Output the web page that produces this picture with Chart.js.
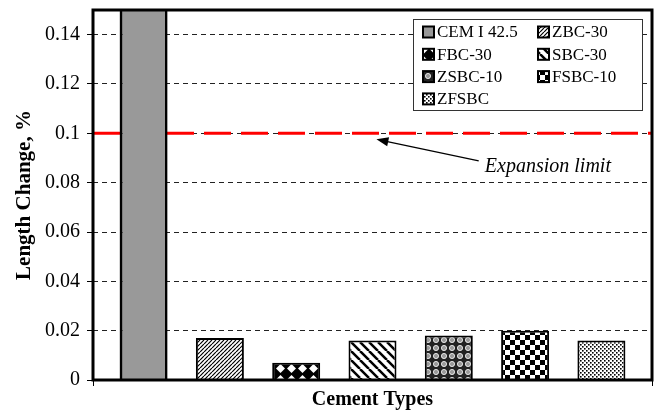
<!DOCTYPE html>
<html>
<head>
<meta charset="utf-8">
<script src="https://cdn.jsdelivr.net/npm/chart.js@4/dist/chart.umd.min.js"></script>
<style>
  html, body { margin: 0; padding: 0; background: #fff; }
  #wrap { width: 654px; height: 416px; }
</style>
</head>
<body>
<div id="wrap"><canvas id="chart"></canvas></div>
<script>
const cementTypes = ['CEM I 42.5', 'ZBC-30', 'FBC-30', 'SBC-30', 'ZSBC-10', 'FSBC-10', 'ZFSBC'];
// CEM I 42.5 runs off the top of the axis; its value is only an estimate
const lengthChange = [0.30, 0.017, 0.007, 0.016, 0.018, 0.020, 0.016];
const yTicks = [0, 0.02, 0.04, 0.06, 0.08, 0.1, 0.12, 0.14];
const yMax = 0.15;
const expansionLimit = 0.1;
const limitLabel = 'Expansion limit';

function makePattern(size, draw) {
  const c = document.createElement('canvas');
  c.width = size;
  c.height = size;
  const g = c.getContext('2d');
  draw(g, size);
  return g.createPattern(c, 'repeat');
}

const fills = [
  '#999999',
  makePattern(4, (g, s) => {
    g.fillStyle = '#fff'; g.fillRect(0, 0, s, s);
    g.strokeStyle = '#000'; g.lineWidth = 1.2;
    g.beginPath();
    for (let o = -s; o <= s; o += s) { g.moveTo(o, s); g.lineTo(o + s, 0); }
    g.stroke();
  }),
  makePattern(11, (g, s) => {
    g.fillStyle = '#000'; g.fillRect(0, 0, s, s);
    g.fillStyle = '#fff';
    g.beginPath();
    g.moveTo(s / 2, 1); g.lineTo(s - 1, s / 2); g.lineTo(s / 2, s - 1); g.lineTo(1, s / 2);
    g.closePath(); g.fill();
  }),
  makePattern(9, (g, s) => {
    g.fillStyle = '#fff'; g.fillRect(0, 0, s, s);
    g.strokeStyle = '#000'; g.lineWidth = 2.5;
    g.beginPath();
    for (let o = -s; o <= s; o += s) { g.moveTo(o, 0); g.lineTo(o + s, s); }
    g.stroke();
  }),
  makePattern(8, (g, s) => {
    g.fillStyle = '#222'; g.fillRect(0, 0, s, s);
    g.fillStyle = '#999'; g.strokeStyle = '#fff'; g.lineWidth = 0.8;
    g.beginPath(); g.arc(s / 2, s / 2, 2.6, 0, Math.PI * 2); g.fill(); g.stroke();
  }),
  makePattern(10, (g, s) => {
    g.fillStyle = '#fff'; g.fillRect(0, 0, s, s);
    g.fillStyle = '#000';
    g.fillRect(0, 0, s / 2, s / 2); g.fillRect(s / 2, s / 2, s / 2, s / 2);
  }),
  makePattern(4, (g, s) => {
    g.fillStyle = '#fff'; g.fillRect(0, 0, s, s);
    g.fillStyle = '#000';
    g.fillRect(0, 0, 1.6, 1.6); g.fillRect(2, 2, 1.6, 1.6);
  })
];

const extras = {
  id: 'extras',
  beforeDatasetsDraw(chart) {
    const { ctx, chartArea: a, scales: { y } } = chart;
    const py = y.getPixelForValue(expansionLimit);
    ctx.save();
    ctx.strokeStyle = '#ff0000';
    ctx.lineWidth = 3;
    ctx.setLineDash([27, 10]);
    ctx.beginPath();
    ctx.moveTo(a.left, py);
    ctx.lineTo(a.right, py);
    ctx.stroke();
    ctx.restore();
  },
  afterDatasetsDraw(chart) {
    const { ctx, chartArea: a, scales: { y } } = chart;
    const w = a.right - a.left;
    ctx.save();

    // frame
    ctx.strokeStyle = '#000';
    ctx.lineWidth = 3;
    ctx.strokeRect(a.left, a.top, w, a.bottom - a.top);

    // arrow to the limit line
    const tipX = a.left + 0.507 * w, tipY = y.getPixelForValue(0.0976);
    const tailX = a.left + 0.69 * w, tailY = y.getPixelForValue(0.0888);
    const ang = Math.atan2(tipY - tailY, tipX - tailX);
    ctx.lineWidth = 1.3;
    ctx.beginPath();
    ctx.moveTo(tailX, tailY);
    ctx.lineTo(tipX - 10 * Math.cos(ang), tipY - 10 * Math.sin(ang));
    ctx.stroke();
    ctx.fillStyle = '#000';
    ctx.beginPath();
    ctx.moveTo(tipX, tipY);
    ctx.lineTo(tipX - 12 * Math.cos(ang) + 4.5 * Math.sin(ang), tipY - 12 * Math.sin(ang) - 4.5 * Math.cos(ang));
    ctx.lineTo(tipX - 12 * Math.cos(ang) - 4.5 * Math.sin(ang), tipY - 12 * Math.sin(ang) + 4.5 * Math.cos(ang));
    ctx.closePath();
    ctx.fill();

    ctx.font = 'italic 20px "Liberation Serif"';
    ctx.textBaseline = 'middle';
    ctx.textAlign = 'left';
    ctx.fillText(limitLabel, a.left + 0.701 * w, y.getPixelForValue(0.0865));

    // legend
    const bx = a.right - 239, by = a.top + 9, bw = 229, bh = 91;
    ctx.fillStyle = '#fff';
    ctx.fillRect(bx, by, bw, bh);
    ctx.strokeStyle = '#333';
    ctx.lineWidth = 1;
    ctx.strokeRect(bx + 0.5, by + 0.5, bw, bh);
    ctx.font = '17px "Liberation Serif"';
    chart.data.datasets.forEach((ds, i) => {
      const col = i % 2, row = Math.floor(i / 2);
      const sx = bx + 10 + col * 115;
      const sy = by + 13 + row * 22.3;
      ctx.fillStyle = ds.backgroundColor;
      ctx.fillRect(sx, sy - 5.5, 11, 11);
      ctx.strokeStyle = '#000';
      ctx.lineWidth = 2;
      ctx.strokeRect(sx, sy - 5.5, 11, 11);
      ctx.fillStyle = '#000';
      ctx.fillText(ds.label, sx + 14, sy + 1);
    });
    ctx.restore();
  }
};

Chart.defaults.font.family = '"Liberation Serif", "Times New Roman", serif';
Chart.defaults.color = '#000';

new Chart(document.getElementById('chart'), {
  type: 'bar',
  data: {
    labels: ['Cement Types'],
    datasets: cementTypes.map((name, i) => ({
      label: name,
      data: [lengthChange[i]],
      backgroundColor: fills[i],
      borderColor: '#000',
      borderWidth: i === 0 ? 3 : 2,
      borderSkipped: 'start'
    }))
  },
  options: {
    responsive: true,
    maintainAspectRatio: false,
    animation: false,
    layout: { padding: { left: 0, right: 2, top: 10, bottom: 0 } },
    categoryPercentage: 0.9555,
    barPercentage: 0.629,
    plugins: {
      legend: { display: false },
      tooltip: { enabled: false }
    },
    scales: {
      x: {
        type: 'category',
        afterFit: s => { s.height = 36; },
        ticks: { display: false },
        grid: { offset: true, drawOnChartArea: false, tickLength: 6, color: '#000' },
        border: { display: false },
        title: {
          display: true,
          text: 'Cement Types',
          font: { size: 20, weight: 'bold' },
          padding: { top: 0, bottom: 4 }
        }
      },
      y: {
        min: 0,
        max: yMax,
        afterFit: s => { s.width = 93; s.paddingTop = 0; s.paddingBottom = 0; },
        afterBuildTicks: s => { s.ticks = yTicks.map(v => ({ value: v })); },
        ticks: {
          padding: 7,
          font: { size: 20 },
          callback: v => String(+v.toFixed(2))
        },
        grid: { color: '#222', lineWidth: 1, tickLength: 6, tickColor: '#000' },
        border: { display: false, dash: [5, 4] },
        title: {
          display: true,
          text: 'Length Change, %',
          font: { size: 21, weight: 'bold' },
          padding: { top: 12, bottom: 0 }
        }
      }
    }
  },
  plugins: [extras]
});
</script>
</body>
</html>
